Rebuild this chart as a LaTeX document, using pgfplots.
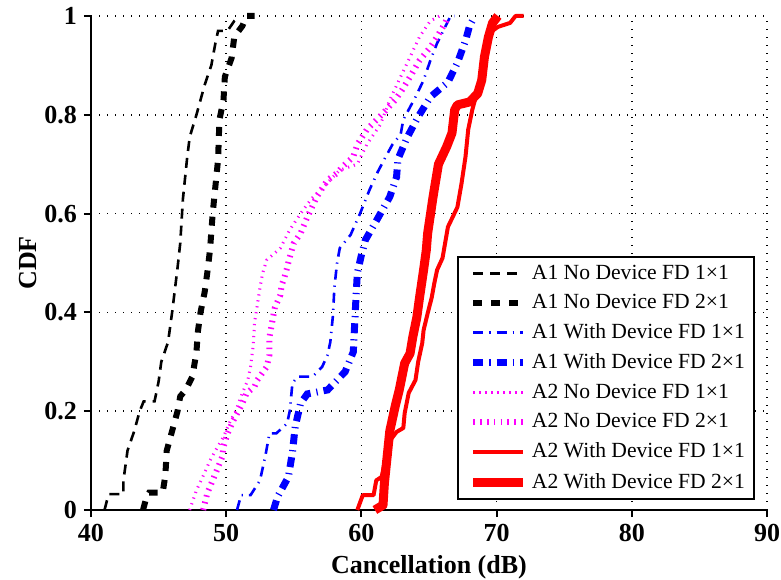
\documentclass[border=0pt]{standalone}
\usepackage{fontspec}
\setmainfont{Liberation Serif}
\usepackage{pgfplots}
\pgfplotsset{compat=1.18}
\definecolor{mag}{rgb}{1,0,1}
\definecolor{blu}{rgb}{0,0,1}
\definecolor{rd}{rgb}{1,0,0}
\begin{document}
\begin{tikzpicture}
\useasboundingbox (-45.5bp,-35bp) rectangle (345bp,255bp);
\begin{axis}[
 at={(0,0)}, anchor=south west,
 scale only axis, width=338bp, height=247bp,
 xmin=40, xmax=90, ymin=0, ymax=1,
 xtick={40,50,...,90}, ytick={0,0.2,0.4,0.6,0.8,1},
 yticklabels={0,0.2,0.4,0.6,0.8,1},
 axis lines*=left,
 axis line style={line width=1bp, black},
 tick align=outside, major tick length=3.5bp,
 tick style={line width=1bp, black},
 grid=major,
 major grid style={black, line width=0.8bp, dash pattern=on 0.6bp off 3.4bp},
 ticklabel style={font=\fontsize{13bp}{15bp}\selectfont\bfseries},
 /pgf/number format/assume math mode=true,
 xlabel={Cancellation (dB)}, ylabel={CDF},
 label style={font=\fontsize{13bp}{15bp}\selectfont\bfseries},
 ylabel style={yshift=-3bp},
 legend style={at={(0.982,0.0202)}, anchor=south east, draw=black, line width=1bp,
   font=\fontsize{10.8bp}{13bp}\selectfont, inner xsep=2.5bp, inner ysep=2bp, row sep=2.1bp},
 legend cell align=left,
 legend image code/.code={\path (0bp,0bp); \draw[#1] (3bp,0bp) -- (28bp,0bp);},
 clip=false,
]
% A1 No Device FD 1x1
\addplot[black, line width=1.3bp, dash pattern=on 5bp off 3.5bp] coordinates {
(41.0,0) (41.3,0.032) (42.4,0.032) (42.4,0.06) (42.7,0.12) (43.2,0.16) (43.6,0.20) (43.9,0.22) (44.7,0.22) (45.0,0.26) (45.2,0.30) (45.7,0.34) (46.0,0.40) (46.4,0.49) (46.6,0.54) (46.8,0.63) (47.1,0.71) (47.3,0.755) (47.8,0.80) (48.4,0.86) (48.9,0.90) (49.2,0.945) (49.4,0.97) (50.1,0.97) (50.6,0.99) (51.0,1.0)
};
\addlegendentry{A1 No Device FD 1×1}
% A1 No Device FD 2x1
\addplot[black, line width=3bp, dash pattern=on 4.5bp off 4.5bp] coordinates {
(43.85,0) (44.1,0.026) (44.3,0.035) (45.3,0.035) (45.5,0.07) (45.6,0.12) (46.1,0.17) (46.4,0.20) (46.6,0.23) (47.0,0.243) (47.5,0.27) (47.8,0.32) (47.9,0.36) (48.1,0.40) (48.4,0.44) (48.6,0.48) (48.8,0.526) (49.0,0.60) (49.4,0.71) (49.5,0.79) (49.8,0.83) (49.9,0.877) (50.4,0.915) (50.6,0.958) (51.2,0.98) (51.5,1.0) (52.1,1.0)
};
\addlegendentry{A1 No Device FD 2×1}
% A1 With Device FD 1x1
\addplot[blu, line width=1.3bp, dash pattern=on 5bp off 3bp on 0.6bp off 3bp] coordinates {
(50.8,0) (51.1,0.03) (51.8,0.03) (52.5,0.06) (52.9,0.11) (53.2,0.155) (53.7,0.155) (54.5,0.175) (54.7,0.20) (54.9,0.257) (55.3,0.27) (56.4,0.27) (57.1,0.29) (57.5,0.314) (57.7,0.34) (57.9,0.395) (58.0,0.45) (58.2,0.50) (58.4,0.53) (59.2,0.557) (59.9,0.60) (60.6,0.648) (61.2,0.684) (61.7,0.71) (62.3,0.74) (62.9,0.76) (63.1,0.79) (64.0,0.836) (64.6,0.87) (65.1,0.91) (65.6,0.945) (66.2,0.978) (66.6,1.0) (66.9,1.0)
};
\addlegendentry{A1 With Device FD 1×1}
% A1 With Device FD 2x1
\addplot[blu, line width=3.5bp, dash pattern=on 5bp off 3bp on 0.6bp off 3bp] coordinates {
(53.5,0) (53.8,0.027) (54.6,0.067) (54.9,0.117) (55.1,0.168) (55.5,0.216) (56.0,0.235) (57.5,0.243) (58.8,0.28) (59.4,0.32) (59.5,0.375) (59.6,0.43) (59.7,0.48) (60.0,0.516) (60.3,0.547) (61.2,0.59) (62.1,0.634) (62.6,0.674) (62.7,0.71) (63.4,0.755) (64.2,0.796) (65.1,0.836) (66.4,0.866) (67.1,0.905) (67.7,0.95) (68.0,0.98) (68.4,1.0)
};
\addlegendentry{A1 With Device FD 2×1}
% A2 No Device FD 1x1
\addplot[mag, line width=1.5bp, dash pattern=on 0.6bp off 2.4bp] coordinates {
(47.3,0) (47.8,0.04) (48.4,0.075) (48.8,0.10) (49.2,0.12) (49.8,0.148) (50.3,0.18) (50.7,0.2) (51.2,0.237) (51.6,0.263) (51.8,0.29) (52.0,0.334) (52.1,0.38) (52.3,0.415) (52.5,0.45) (52.7,0.48) (53.0,0.506) (54.0,0.53) (54.7,0.567) (55.5,0.6) (56.3,0.63) (57.2,0.654) (58.4,0.688) (59.7,0.70) (60.4,0.74) (61.4,0.78) (62.1,0.83) (62.9,0.877) (63.6,0.917) (64.3,0.958) (65.1,0.99) (65.8,1.0)
};
\addlegendentry{A2 No Device FD 1×1}
% A2 No Device FD 2x1
\addplot[mag, line width=3bp, dash pattern=on 0.8bp off 2.6bp] coordinates {
(48.3,0) (48.6,0.034) (49.0,0.06) (49.3,0.08) (49.7,0.107) (49.8,0.128) (50.1,0.155) (50.5,0.18) (50.9,0.2) (51.2,0.216) (51.5,0.236) (52.1,0.25) (52.3,0.263) (53.0,0.29) (53.2,0.314) (53.2,0.35) (53.4,0.38) (53.6,0.41) (54.0,0.435) (54.1,0.455) (54.3,0.47) (54.5,0.49) (54.7,0.512) (55.0,0.54) (55.5,0.56) (56.0,0.593) (56.7,0.634) (57.5,0.668) (58.2,0.682) (58.6,0.695) (59.4,0.715) (59.7,0.74) (60.4,0.77) (61.5,0.80) (62.5,0.83) (63.0,0.85) (63.6,0.877) (64.3,0.91) (65.1,0.937) (65.6,0.958) (66.2,0.986) (66.4,1.0)
};
\addlegendentry{A2 No Device FD 2×1}
% A2 With Device FD 1x1
\addplot[rd, line width=2bp, line join=round] coordinates {
(59.7,0) (60.1,0.03) (60.9,0.03) (61.1,0.06) (61.5,0.067) (61.9,0.12) (62.1,0.14) (62.6,0.158) (63.1,0.166) (63.2,0.196) (63.5,0.237) (64.0,0.263) (64.2,0.30) (64.5,0.338) (64.6,0.364) (64.9,0.398) (65.2,0.43) (65.4,0.46) (65.6,0.486) (66.0,0.51) (66.4,0.573) (67.1,0.613) (67.4,0.66) (67.7,0.715) (67.9,0.77) (68.2,0.81) (68.4,0.83) (68.7,0.85) (69.0,0.9) (69.4,0.95) (69.7,0.97) (70.1,0.978) (71.0,0.986) (71.4,1.0) (72.0,1.0)
};
\addlegendentry{A2 With Device FD 1×1}
% A2 With Device FD 2x1
\addplot[rd, line width=4.5bp, line join=round] coordinates {
(61.0,0) (61.6,0.01) (61.7,0.054) (61.9,0.107) (62.1,0.16) (62.5,0.21) (62.8,0.243) (63.0,0.27) (63.2,0.297) (63.6,0.317) (63.8,0.35) (64.1,0.39) (64.3,0.43) (64.6,0.486) (64.8,0.526) (64.9,0.56) (65.3,0.634) (65.7,0.70) (66.3,0.735) (66.7,0.763) (66.9,0.81) (67.1,0.82) (68.0,0.826) (68.6,0.843) (68.9,0.87) (69.1,0.917) (69.4,0.958) (69.7,0.986) (70.1,1.0)
};
\addlegendentry{A2 With Device FD 2×1}
\end{axis}
\end{tikzpicture}
\end{document}
